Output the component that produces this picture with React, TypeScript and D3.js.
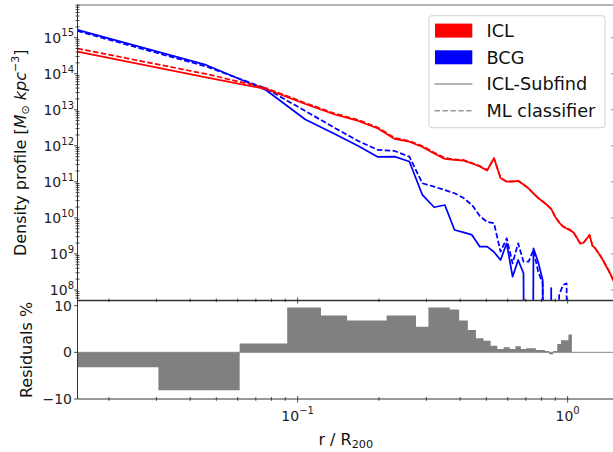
import React from 'react';
import * as d3 from 'd3';

// Radial bin centres (r / R200)
const radii = [
  0.0153, 0.0458, 0.0763, 0.1068, 0.1373, 0.1678, 0.1983, 0.2288, 0.2593, 0.2898,
  0.3203, 0.3508, 0.3813, 0.4118, 0.4423, 0.4728, 0.5033, 0.5338, 0.5643, 0.5948,
  0.6253, 0.6558, 0.6863, 0.7168, 0.7473, 0.7778, 0.8083, 0.8388, 0.8693, 0.8998,
  0.9303, 0.9608, 0.9913, 1.0218, 1.0523, 1.0828, 1.1133, 1.1438, 1.1743, 1.2048,
  1.2353, 1.2658, 1.2963, 1.3268, 1.3573, 1.3878, 1.4183, 1.4488, 1.4793,
];

// ICL density, Subfind (solid) and ML classifier (dashed)
const iclSubfind = [
  4.09e14, 7.96e13, 3.78e13, 1.45e13, 7.40e12, 4.89e12, 3.03e12, 1.55e12, 1.30e12, 9.27e11,
  6.12e11, 4.31e11, 4.04e11, 3.87e11, 3.23e11, 2.67e11, 2.07e11, 4.51e11, 1.28e11, 1.01e11,
  1.02e11, 1.06e11, 8.45e10, 6.55e10, 4.75e10, 3.57e10, 2.85e10, 2.28e10, 1.77e10, 1.06e10,
  7.45e9, 5.70e9, 5.08e9, 4.47e9, 3.94e9, 2.77e9, 1.95e9, 2.01e9, 2.60e9, 3.36e9,
  1.71e9, 1.42e9, 1.10e9, 8.49e8, 6.37e8, 4.62e8, 3.47e8, 2.52e8, 1.77e8,
];
const iclML = [
  5.01e14, 9.84e13, 4.02e13, 1.54e13, 7.89e12, 5.20e12, 3.22e12, 1.65e12, 1.36e12, 9.89e11,
  6.53e11, 4.59e11, 4.17e11, 4.04e11, 3.33e11, 2.75e11, 2.13e11, 4.54e11, 1.29e11, 1.02e11,
  1.03e11, 1.07e11, 8.50e10, 6.58e10, 4.77e10, 3.58e10, 2.86e10, 2.28e10, 1.76e10, 1.06e10,
  7.58e9, 5.85e9, 5.21e9, 4.64e9, 3.94e9, 2.77e9, 1.95e9, 2.01e9, 2.60e9, 3.36e9,
  1.71e9, 1.42e9, 1.10e9, 8.49e8, 6.37e8, 4.62e8, 3.47e8, 2.52e8, 1.77e8,
];

// BCG density, Subfind (solid) and ML classifier (dashed); 0 = empty bin
const bcgSubfind = [
  1.64e15, 1.75e14, 3.54e13, 5.37e12, 2.13e12, 9.89e11, 4.90e11, 4.99e11, 3.67e11, 4.32e10,
  1.97e10, 2.28e10, 4.61e9, 3.94e9, 3.36e9, 1.59e9, 1.59e9, 1.13e9, 6.79e8, 1.97e9,
  2.33e8, 6.79e8, 2.90e8, 0, 1.43e9, 5.97e8, 1.89e8, 0, 1.13e8, 0,
  0, 0, 0, 0,
];
const bcgML = [
  1.53e15, 1.59e14, 3.89e13, 9.25e12, 3.12e12, 1.36e12, 7.66e11, 7.18e11, 4.99e11, 9.12e10,
  7.34e10, 5.94e10, 4.82e10, 3.57e10, 2.28e10, 1.13e10, 7.69e9, 7.08e9, 1.15e9, 2.72e9,
  5.50e8, 1.97e9, 6.10e8, 6.10e8, 1.29e9, 3.21e8, 1.53e8, 0, 0, 0,
  7.26e7, 1.37e8, 1.53e8, 0,
];

// Residuals (%) histogram
const residualEdges = [
  0, 0.0305, 0.061, 0.0915, 0.122, 0.1525, 0.183, 0.2135, 0.244, 0.2745,
  0.305, 0.3355, 0.366, 0.3965, 0.427, 0.4575, 0.488, 0.5185, 0.549, 0.5795,
  0.61, 0.6405, 0.671, 0.7015, 0.732, 0.7625, 0.793, 0.8235, 0.854, 0.8845,
  0.915, 0.9455, 0.976, 1.0065, 1.037, 1.5,
];
const residuals = [
  -3.2, -8.1, 1.9, 9.6, 7.9, 6.8, 6.8, 7.9, 7.9, 5.5,
  9.6, 9.6, 9.2, 6.8, 4.8, 3.0, 2.5, 1.4, 0.7, 1.1,
  0.7, 1.3, 0.7, 0.9, 0.9, 0.5, 0.5, 0.3, -0.4, 0.3,
  1.8, 2.6, 2.6, 3.8, 0,
];

const xDomain = [0.0153, 1.485];
const yDomain = [5.1e7, 8.07e15];
const resDomain = [-10, 11];
const yMajorExps = [8, 9, 10, 11, 12, 13, 14, 15];
const resTicks = [-10, 0, 10];
const xMajorTicks = [{ v: 0.1, exp: '−1' }, { v: 1, exp: '0' }];

const legendItems = [
  { label: 'ICL', kind: 'patch', color: '#ff0000' },
  { label: 'BCG', kind: 'patch', color: '#0000ff' },
  { label: 'ICL-Subfind', kind: 'line', dash: '' },
  { label: 'ML classifier', kind: 'line', dash: '5.5,2.4' },
];

const FONT = 'DejaVu Sans, sans-serif';

export default function App() {
  const W = 613, H = 452;
  const L = 77.5, R = 614;
  const T1 = 5, B1 = 300.5;
  const T2 = 301, B2 = 399;

  const x = d3.scaleLog().domain(xDomain).range([L, R]);
  const y = d3.scaleLog().domain(yDomain).range([B1, T1]);
  const yr = d3.scaleLinear().domain(resDomain).range([B2, T2]);

  const line = d3
    .line<[number, number]>()
    .x((d) => x(d[0]))
    .y((d) => y(Math.max(d[1], 1e-25)));

  const series = (vals: number[]) => vals.map((v, i) => [radii[i], v] as [number, number]);

  // residual step polygon
  const pts: [number, number][] = [];
  residuals.forEach((v, i) => {
    const a = Math.max(residualEdges[i], xDomain[0] * 0.5);
    const b = residualEdges[i + 1];
    pts.push([a, v], [b, v]);
  });
  const area = d3
    .area<[number, number]>()
    .x((d) => x(d[0]))
    .y0(yr(0))
    .y1((d) => yr(d[1]));

  // minor ticks
  const yMinor: number[] = [];
  for (let e = 7; e <= 15; e++) {
    for (let m = 2; m <= 9; m++) {
      const v = m * Math.pow(10, e);
      if (v >= yDomain[0] && v <= yDomain[1]) yMinor.push(v);
    }
  }
  const xMinor: number[] = [];
  for (let e = -2; e <= 0; e++) {
    for (let m = 2; m <= 9; m++) {
      const v = m * Math.pow(10, e);
      if (v >= xDomain[0] && v <= xDomain[1]) xMinor.push(v);
    }
  }

  const tickColor = '#222';

  return (
    <svg
      width={W}
      height={H}
      style={{ position: 'absolute', left: 0, top: 0, background: '#fff' }}
      fontFamily={FONT}
    >
      <defs>
        <clipPath id="clipTop">
          <rect x={L} y={T1} width={R - L} height={B1 - T1} />
        </clipPath>
        <clipPath id="clipBot">
          <rect x={L} y={T2} width={R - L} height={B2 - T2} />
        </clipPath>
      </defs>
      <rect x={0} y={0} width={W} height={H} fill="#fff" />

      {/* Top panel lines */}
      <g clipPath="url(#clipTop)" fill="none" strokeWidth={1.75} strokeLinejoin="round">
        <path d={line(series(bcgSubfind)) || ''} stroke="#0000ff" />
        <path d={line(series(bcgML)) || ''} stroke="#0000ff" strokeDasharray="5.5,2.4" />
        <path d={line(series(iclSubfind)) || ''} stroke="#ff0000" />
        <path d={line(series(iclML)) || ''} stroke="#ff0000" strokeDasharray="5.5,2.4" />
      </g>

      {/* Bottom panel histogram */}
      <g clipPath="url(#clipBot)">
        <path d={area(pts) || ''} fill="#808080" />
        <line x1={L} x2={R} y1={yr(0)} y2={yr(0)} stroke="#8a8a8a" strokeWidth={1} />
      </g>

      {/* Spines */}
      <g stroke="#333" strokeWidth={1} fill="none">
        <line x1={L} x2={R} y1={T1} y2={T1} stroke="#666" />
        <line x1={L} x2={L} y1={T1} y2={B2} />
        <line x1={L} x2={R} y1={B1} y2={B1} strokeWidth={1.4} />
        <line x1={L} x2={R} y1={B2} y2={B2} />
      </g>

      {/* Ticks */}
      <g stroke={tickColor} strokeWidth={0.8}>
        {yMinor.map((v, i) => (
          <line key={'ym' + i} x1={L - 2} x2={L + 2} y1={y(v)} y2={y(v)} />
        ))}
        {yMajorExps.map((e) => (
          <line key={'yM' + e} x1={L - 3.5} x2={L} y1={y(Math.pow(10, e))} y2={y(Math.pow(10, e))} />
        ))}
        {yMajorExps.map((e) => (
          <line key={'yMr' + e} x1={R - 3.5} x2={R} y1={y(Math.pow(10, e))} y2={y(Math.pow(10, e))} stroke="#888" />
        ))}
        {resTicks.map((t) => (
          <line key={'rt' + t} x1={L - 3.5} x2={L} y1={yr(t)} y2={yr(t)} />
        ))}
        {xMinor.map((v, i) => (
          <g key={'xm' + i}>
            <line x1={x(v)} x2={x(v)} y1={B2 - 1.8} y2={B2 + 1.8} />
            <line x1={x(v)} x2={x(v)} y1={B1 - 2} y2={B1 + 1.5} />
          </g>
        ))}
        {xMajorTicks.map((t) => (
          <g key={'xM' + t.v}>
            <line x1={x(t.v)} x2={x(t.v)} y1={B2 - 3} y2={B2 + 3.5} />
            <line x1={x(t.v)} x2={x(t.v)} y1={B1 - 3} y2={B1 + 3} />
          </g>
        ))}
      </g>

      {/* Tick labels */}
      <g fill={tickColor} fontSize={14}>
        {yMajorExps.map((e) => (
          <text key={'yl' + e} x={74} y={y(Math.pow(10, e)) + 5.3} textAnchor="end">
            10
            <tspan fontSize={10} dy={-6.5}>
              {String(e)}
            </tspan>
          </text>
        ))}
        {resTicks.map((t) => (
          <text key={'rl' + t} x={72} y={yr(t) + 5} textAnchor="end">
            {t < 0 ? '−' + Math.abs(t) : String(t)}
          </text>
        ))}
        {xMajorTicks.map((t) => (
          <text key={'xl' + t.v} x={x(t.v)} y={420.5} textAnchor="middle">
            10
            <tspan fontSize={10} dy={-6.5}>
              {t.exp}
            </tspan>
          </text>
        ))}
      </g>

      {/* Axis labels */}
      <g fill="#111" fontSize={16}>
        <text transform={`translate(25.5,${(T1 + B1) / 2}) rotate(-90)`} textAnchor="middle">
          Density profile [<tspan fontStyle="italic">M</tspan>
          <tspan fontSize={11} dy={3.5}>⊙</tspan>
          <tspan dy={-3.5} fontStyle="italic"> kpc</tspan>
          <tspan fontSize={11} dy={-7}>−3</tspan>
          <tspan dy={7}>]</tspan>
        </text>
        <text transform={`translate(32,${(T2 + B2) / 2}) rotate(-90)`} textAnchor="middle">
          Residuals %
        </text>
        <text x={(L + R) / 2} y={445} textAnchor="middle">
          r / R<tspan fontSize={11.2} dy={3}>200</tspan>
        </text>
      </g>

      {/* Legend */}
      <g>
        <rect x={429} y={15.7} width={176} height={112} rx={3} fill="#fff" fillOpacity={0.85} stroke="#d0d0d0" strokeWidth={1} />
        {legendItems.map((it, i) => {
          const cy = 30.6 + i * 26.7;
          return (
            <g key={it.label}>
              {it.kind === 'patch' ? (
                <rect x={435} y={cy - 7} width={37.3} height={14} fill={it.color} />
              ) : (
                <line x1={434.5} x2={472.3} y1={cy} y2={cy} stroke="#999" strokeWidth={1.6} strokeDasharray={it.dash || undefined} />
              )}
              <text x={486.5} y={cy + 6.3} fontSize={17.7} fill="#111">
                {it.label}
              </text>
            </g>
          );
        })}
      </g>
    </svg>
  );
}
